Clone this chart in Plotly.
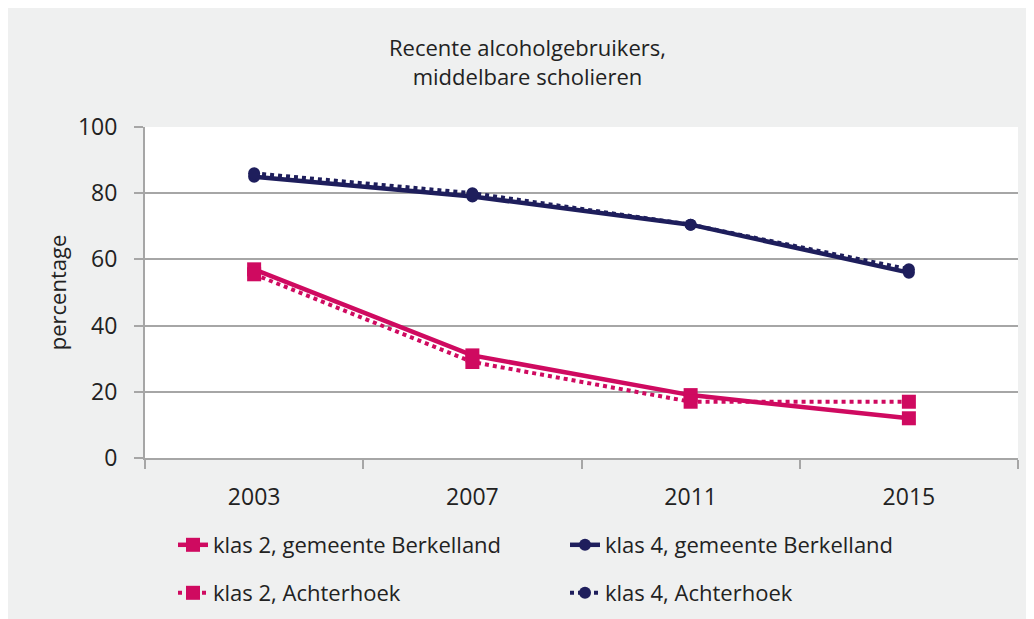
import plotly.graph_objects as go

years = ["2003", "2007", "2011", "2015"]
klas2_berkelland = [57, 31, 19, 12]
klas4_berkelland = [85, 79, 70.5, 56]
klas2_achterhoek = [55.5, 29, 17, 17]
klas4_achterhoek = [86, 80, 70.5, 57]

y_ticks = [0, 20, 40, 60, 80, 100]

title_lines = ["Recente alcoholgebruikers,", "middelbare scholieren"]
y_title = "percentage"

PINK = "#cf0a60"
NAVY = "#1e1e5c"
GRID = "#a6a6a6"
BG = "#eff0f0"
TXT = "#222222"
FONT = "Open Sans"

fig = go.Figure()

fig.add_trace(go.Scatter(
    x=years, y=klas2_berkelland, name="klas 2, gemeente Berkelland",
    mode="lines+markers", line=dict(color=PINK, width=4.5),
    marker=dict(symbol="square", size=14, color=PINK), legend="legend"))
fig.add_trace(go.Scatter(
    x=years, y=klas4_berkelland, name="klas 4, gemeente Berkelland",
    mode="lines+markers", line=dict(color=NAVY, width=4.5),
    marker=dict(symbol="circle", size=12, color=NAVY), legend="legend"))
fig.add_trace(go.Scatter(
    x=years, y=klas2_achterhoek, name="klas 2, Achterhoek",
    mode="lines+markers", line=dict(color=PINK, width=4, dash="dot"),
    marker=dict(symbol="square", size=14, color=PINK), legend="legend2"))
fig.add_trace(go.Scatter(
    x=years, y=klas4_achterhoek, name="klas 4, Achterhoek",
    mode="lines+markers", line=dict(color=NAVY, width=4, dash="dot"),
    marker=dict(symbol="circle", size=12, color=NAVY), legend="legend2"))

# The page body adds an 8px offset; figure coords = screen - 8
OFF = 8
W, H = 1034, 619
L, R, T, B = 137, 24, 119, 169
pw, ph = W - L - R, H - T - B

def px_x(p):
    return (p - OFF - L) / pw

def px_y(p):
    return (H - B - (p - OFF)) / ph

legend_common = dict(orientation="h", xanchor="left", yanchor="middle",
                     entrywidth=347, entrywidthmode="pixels",
                     font=dict(size=22, color=TXT), bgcolor="rgba(0,0,0,0)",
                     traceorder="normal")

fig.update_layout(
    width=W, height=H,
    margin=dict(l=L, r=R, t=T, b=B, autoexpand=False),
    paper_bgcolor=BG, plot_bgcolor="white",
    font=dict(family=FONT, size=22, color=TXT),
    showlegend=True,
    legend=dict(x=px_x(173), y=px_y(545), **legend_common),
    legend2=dict(x=px_x(173), y=px_y(593), **legend_common),
    xaxis=dict(type="category", showgrid=False, showline=True, linecolor=GRID,
               linewidth=2, ticks="outside", tickson="boundaries", ticklen=9,
               tickcolor=GRID, tickwidth=1.5, ticklabelstandoff=17,
               tickfont=dict(size=23, color=TXT), range=[-0.5, 3.5],
               zeroline=False, automargin=False),
    yaxis=dict(range=[0, 100], tickvals=y_ticks, showgrid=True, gridcolor=GRID,
               gridwidth=2, showline=True, linecolor=GRID, linewidth=2,
               ticks="outside", ticklen=9, tickcolor=GRID, tickwidth=1.5,
               ticklabelstandoff=12, tickfont=dict(size=23, color=TXT),
               zeroline=False, automargin=False,
               title=dict(text=y_title, font=dict(size=22, color=TXT),
                          standoff=5)),
    annotations=[
        dict(text="<br>".join(title_lines), xref="paper", yref="paper",
             x=px_x(527), y=px_y(62), xanchor="center", yanchor="middle",
             showarrow=False, align="center",
             font=dict(size=22, color=TXT)),
    ],
)

fig.write_html("out.html")
